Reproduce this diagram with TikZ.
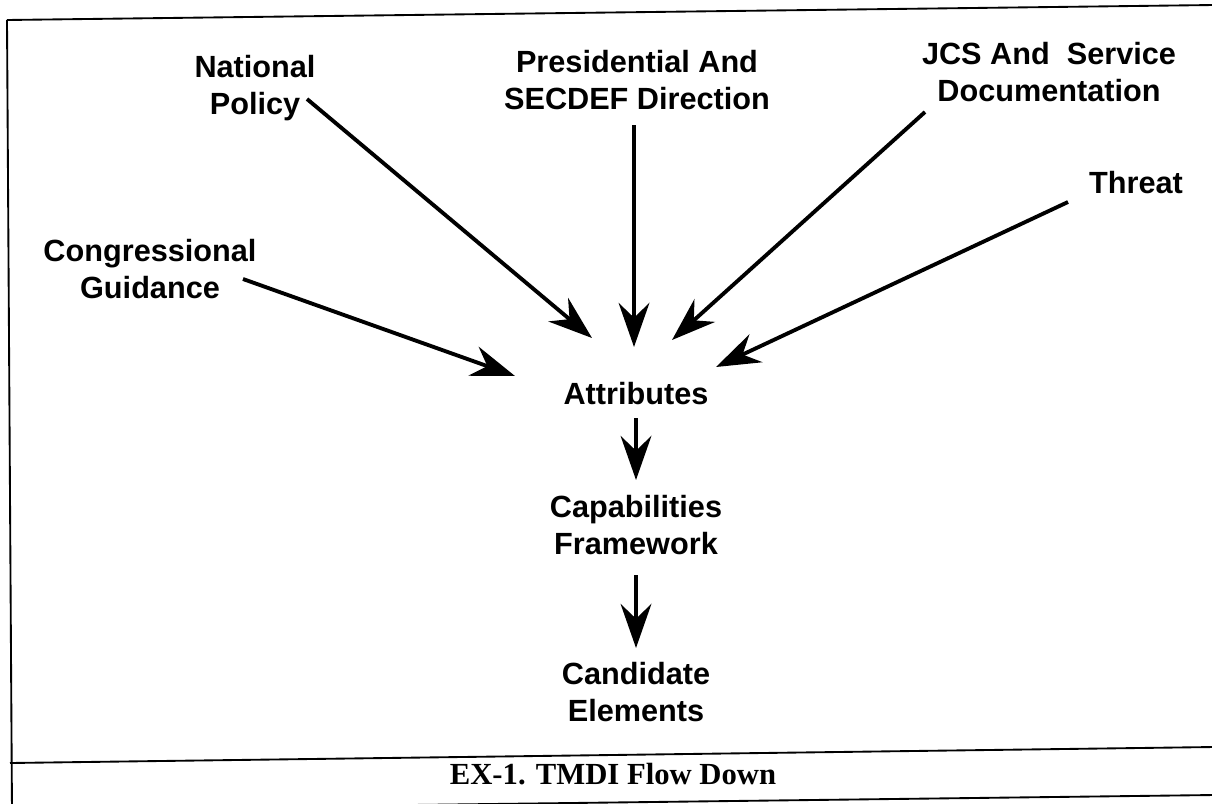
\documentclass[tikz,border=0pt]{standalone}
\usepackage{fontspec}
\setmainfont{Liberation Serif}
\setsansfont{Liberation Sans}
\usetikzlibrary{arrows.meta}

\begin{document}
\begin{tikzpicture}[x=0.75pt,y=0.75pt,yscale=-1,xscale=1,
  lbl/.style={font=\sffamily\bfseries\fontsize{23}{28}\selectfont,align=center,inner sep=0.75pt},
  flow/.style={line width=2.9pt,-{Stealth[length=33pt,width=23pt,inset=11pt]}}]
\useasboundingbox (0,0) rectangle (1212,803);
% frame and caption row
\draw[line width=1.4pt] (7,20) -- (1214,5);
\draw[line width=1.4pt] (7,20) -- (12,812);
\draw[line width=1.4pt] (10,763) -- (1214,747);
\draw[line width=1.4pt] (10,810) -- (1214,795);
% sources
\node[lbl] (natpol) at (255,88) {National\\Policy};
\node[lbl] (pres) at (637,80) {Presidential And\\SECDEF Direction};
\node[lbl] (jcs) at (1049,72) {JCS And\ \ Service\\Documentation};
\node[lbl] (threat) at (1136,183) {Threat};
\node[lbl] (cong) at (150,269) {Congressional\\Guidance};
% flow down
\node[lbl] (attr) at (636,394) {Attributes};
\node[lbl] (capfw) at (636,525) {Capabilities\\Framework};
\node[lbl] (cand) at (636,692) {Candidate\\Elements};
\node[font=\rmfamily\bfseries\fontsize{23}{26}\selectfont,inner sep=0.75pt] (caption) at (613,774) {EX-1. TMDI Flow Down};
% arrow tips round Attributes
\coordinate (inCG) at (515,376);
\coordinate (inNP) at (592,338);
\coordinate (inPD) at (634,347);
\coordinate (inJS) at (672,340);
\coordinate (inTH) at (716,367);
\draw[flow] ([shift={(93,10)}]cong.center) -- (inCG);
\draw[flow] ([shift={(52,11)}]natpol.center) -- (inNP);
\draw[flow] ([shift={(-3,45)}]pres.center) -- (inPD);
\draw[flow] ([shift={(-124,40)}]jcs.center) -- (inJS);
\draw[flow] ([shift={(-68,19)}]threat.center) -- (inTH);
\draw[flow] ([shift={(0,24)}]attr.center) -- ([shift={(0,-45)}]capfw.center);
\draw[flow] ([shift={(0,50)}]capfw.center) -- ([shift={(0,-44)}]cand.center);
\end{tikzpicture}
\end{document}
